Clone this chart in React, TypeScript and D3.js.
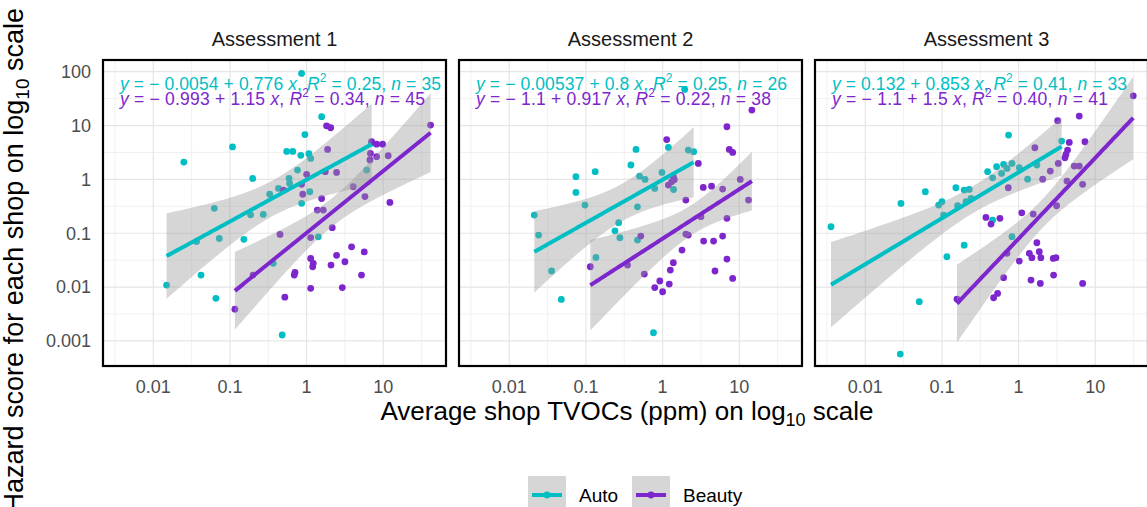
import React, { useEffect, useRef } from "react";
import * as d3 from "d3";

const panelTitles = ["Assessment 1", "Assessment 2", "Assessment 3"];
const groupNames = ["Auto", "Beauty"];
const groupColors = ["#00BFC4", "#7D26CD"];

const xTicks = [0.01, 0.1, 1, 10];
const xTickLabels = ["0.01", "0.1", "1", "10"];
const yTicks = [0.001, 0.01, 0.1, 1, 10, 100];
const yTickLabels = ["0.001", "0.01", "0.1", "1", "10", "100"];

// [average TVOC (ppm), hazard score]
const auto1 = [
  [0.86, 93], [0.025, 2.1], [0.108, 4.0], [1.57, 14.6], [0.95, 6.8], [0.55, 3.3], [0.66, 3.3],
  [0.84, 2.8], [1.07, 3.0], [1.13, 2.45], [0.198, 1.04], [0.76, 1.49], [0.59, 1.04], [0.6, 0.84],
  [0.43, 0.68], [0.33, 0.53], [0.86, 0.36], [1.1, 0.59], [0.0625, 0.29], [0.186, 0.22],
  [0.272, 0.224], [0.0367, 0.07], [0.0726, 0.08], [0.152, 0.077], [1.42, 0.086], [0.367, 0.0276],
  [0.0419, 0.0167], [0.0149, 0.0109], [0.0656, 0.0062], [0.48, 0.00129], [6.07, 1.49], [7.05, 4.7],
];
const beauty1 = [
  [1.82, 9.9], [2.06, 9.1], [7.05, 5.0], [8.2, 4.5], [9.8, 4.5], [41.4, 10.2], [6.8, 3.04],
  [6.7, 2.29], [8.2, 2.64], [11.6, 2.75], [1.88, 3.6], [1.0, 1.24], [2.46, 1.35], [1.75, 1.39],
  [0.86, 0.81], [0.89, 0.53], [0.5, 0.63], [4.06, 0.73], [5.77, 0.48], [1.57, 0.44], [1.38, 0.27],
  [1.65, 0.27], [12.2, 0.374], [2.16, 0.127], [0.45, 0.095], [1.13, 0.083], [3.86, 0.056],
  [5.65, 0.045], [2.46, 0.039], [1.13, 0.034], [1.22, 0.0276], [1.2, 0.0239], [2.08, 0.0257],
  [3.16, 0.0296], [0.705, 0.0188], [0.69, 0.0167], [5.2, 0.0167], [0.2, 0.0167], [1.13, 0.0095],
  [2.92, 0.0098], [0.52, 0.0065], [0.116, 0.0039],
];
const auto2 = [
  [1.94, 46.9], [0.45, 3.6], [1.19, 3.93], [2.16, 3.5], [2.54, 3.27], [0.386, 1.85], [0.132, 1.39],
  [0.074, 1.12], [0.074, 0.574], [0.5, 1.15], [0.59, 1.0], [0.98, 1.35], [0.79, 0.68], [1.39, 0.65],
  [0.097, 0.334], [0.47, 0.31], [0.0212, 0.218], [0.267, 0.157], [0.239, 0.111], [0.0241, 0.0926],
  [0.277, 0.0826], [0.47, 0.0748], [0.135, 0.0356], [0.0356, 0.0199], [0.0477, 0.0059], [0.76, 0.00142],
];
const beauty2 = [
  [14.6, 19.4], [6.9, 9.5], [1.13, 5.5], [7.4, 3.6], [8.2, 3.17], [2.92, 1.98], [1.38, 1.12],
  [1.31, 0.9], [1.19, 0.785], [3.39, 0.71], [4.35, 0.75], [6.07, 0.66], [10.3, 1.0], [13.2, 0.413],
  [2.01, 0.413], [3.16, 0.203], [6.9, 0.189], [2.01, 0.0966], [2.16, 0.0926], [0.52, 0.0887],
  [3.43, 0.0716], [4.62, 0.0716], [6.07, 0.0887], [1.79, 0.0488], [6.9, 0.0332], [1.38, 0.0284],
  [1.26, 0.0207], [0.114, 0.0239], [0.349, 0.0257], [0.577, 0.0175], [4.82, 0.0199], [8.2, 0.0145],
  [0.92, 0.013], [1.22, 0.0114], [0.79, 0.0098], [1.0, 0.0082], [1.42, 0.99],
];
const auto3 = [
  [0.74, 6.65], [3.64, 5.15], [0.00357, 0.132], [0.0292, 0.358], [0.0607, 0.59], [0.152, 0.7],
  [0.195, 0.634], [0.227, 0.652], [0.0905, 0.334], [0.1, 0.385], [0.16, 0.324], [0.206, 0.385],
  [0.239, 0.444], [0.105, 0.218], [0.394, 1.39], [0.516, 1.72], [0.637, 1.9], [0.819, 1.98],
  [0.705, 1.6], [0.6, 1.29], [0.458, 1.07], [1.02, 1.65], [1.31, 1.01], [1.73, 1.85], [0.458, 0.176],
  [0.195, 0.06], [0.116, 0.0367], [0.819, 0.0863], [0.0506, 0.00536], [0.0286, 0.000571],
];
const beauty3 = [
  [31.3, 35.7], [3.23, 12.3], [6.18, 15.0], [4.58, 4.86], [7.33, 5.0], [1.63, 3.87], [4.35, 3.5],
  [4.14, 2.91], [4.02, 2.52], [3.29, 1.98], [2.59, 1.43], [5.32, 1.77], [6.18, 1.77], [2.06, 1.01],
  [4.27, 0.93], [6.84, 0.81], [0.733, 0.7], [3.13, 0.324], [1.1, 0.24], [1.55, 0.227], [0.375, 0.197],
  [0.436, 0.148], [0.571, 0.189], [1.73, 0.0667], [0.705, 0.0423], [1.38, 0.0423], [1.86, 0.0454],
  [1.49, 0.0352], [1.95, 0.0352], [2.83, 0.0341], [3.07, 0.0352], [1.02, 0.0305], [0.637, 0.015],
  [1.45, 0.0135], [1.92, 0.0117], [2.86, 0.0167], [6.84, 0.0117], [0.532, 0.00765], [0.472, 0.00635],
  [0.157, 0.006],
];

// fitted log10(hazard) = a + b * log10(TVOC), as printed on the chart
const autoIntercept = [-0.0054, -0.00537, 0.132];
const autoSlope = [0.776, 0.8, 0.853];
const autoR2 = ["0.25", "0.25", "0.41"];
const autoN = [35, 26, 33];
const beautyIntercept = [-0.993, -1.1, -1.1];
const beautySlope = [1.15, 0.917, 1.5];
const beautyR2 = ["0.34", "0.22", "0.40"];
const beautyN = [45, 38, 41];

const FONT = "'Liberation Sans', Arial, Helvetica, sans-serif";

// confidence band around the printed line, as geom_smooth does it
const smoothBand = (data, a, b) => {
  const lx = data.map((d) => Math.log10(d[0]));
  const ly = data.map((d) => Math.log10(d[1]));
  const n = data.length;
  const xbar = d3.mean(lx);
  const sxx = d3.sum(lx, (v) => (v - xbar) ** 2);
  const sse = d3.sum(lx, (v, i) => (ly[i] - (a + b * v)) ** 2);
  const s = Math.sqrt(sse / (n - 2));
  const t = 1.96 + 2.4 / (n - 2);
  const [lo, hi] = d3.extent(lx);
  return d3.range(80).map((i) => {
    const v = lo + ((hi - lo) * i) / 79;
    const fit = a + b * v;
    const h = t * s * Math.sqrt(1 / n + (v - xbar) ** 2 / sxx);
    return { x: 10 ** v, fit: 10 ** fit, lo: 10 ** (fit - h), hi: 10 ** (fit + h) };
  });
};

const App = () => {
  const svgRef = useRef(null);

  useEffect(() => {
    const width = 1147,
      height = 507;
    const top = 60,
      bottom = 366,
      left0 = 103,
      step = 356,
      panelW = 343;
    const panelWidths = [343, 343, 333];
    // rendered widths of the equation labels (auto, beauty) per panel
    const eqWidths = [
      [321, 305],
      [311, 295],
      [295, 276],
    ];

    const svg = d3.select(svgRef.current);
    svg.selectAll("*").remove();
    svg.attr("width", width).attr("height", height);

    const x = d3.scaleLog().domain([0.002208, 65.8]).range([0, panelW]);
    const y = d3.scaleLog().domain([0.000343, 164.8]).range([bottom - top, 0]);

    const xMinor = xTicks.map((v) => v / Math.sqrt(10)).concat([10 * Math.sqrt(10)]);
    const yMinor = yTicks.slice(1).map((v) => v / Math.sqrt(10)).concat([100 * Math.sqrt(10)]);

    const datasets = [
      [auto1, beauty1],
      [auto2, beauty2],
      [auto3, beauty3],
    ];
    const intercepts = [autoIntercept, beautyIntercept];
    const slopes = [autoSlope, beautySlope];
    const r2s = [autoR2, beautyR2];
    const ns = [autoN, beautyN];

    const defs = svg.append("defs");

    panelTitles.forEach((title, p) => {
      const pw = panelWidths[p];
      const h = bottom - top;
      defs
        .append("clipPath")
        .attr("id", `clip${p}`)
        .append("rect")
        .attr("width", pw)
        .attr("height", h);

      const g = svg.append("g").attr("transform", `translate(${left0 + step * p},${top})`);
      const inner = g.append("g").attr("clip-path", `url(#clip${p})`);

      // grid
      inner
        .selectAll(".xminor")
        .data(xMinor)
        .join("line")
        .attr("x1", (d) => x(d))
        .attr("x2", (d) => x(d))
        .attr("y1", 0)
        .attr("y2", h)
        .attr("stroke", "#eeeeee")
        .attr("stroke-width", 0.8);
      inner
        .selectAll(".yminor")
        .data(yMinor)
        .join("line")
        .attr("y1", (d) => y(d))
        .attr("y2", (d) => y(d))
        .attr("x1", 0)
        .attr("x2", pw)
        .attr("stroke", "#eeeeee")
        .attr("stroke-width", 0.8);
      inner
        .selectAll(".xmajor")
        .data(xTicks)
        .join("line")
        .attr("x1", (d) => x(d))
        .attr("x2", (d) => x(d))
        .attr("y1", 0)
        .attr("y2", h)
        .attr("stroke", "#e6e6e6")
        .attr("stroke-width", 1.2);
      inner
        .selectAll(".ymajor")
        .data(yTicks)
        .join("line")
        .attr("y1", (d) => y(d))
        .attr("y2", (d) => y(d))
        .attr("x1", 0)
        .attr("x2", pw)
        .attr("stroke", "#e6e6e6")
        .attr("stroke-width", 1.2);

      // points
      datasets[p].forEach((data, gi) => {
        inner
          .append("g")
          .selectAll("circle")
          .data(data)
          .join("circle")
          .attr("cx", (d) => x(d[0]))
          .attr("cy", (d) => y(d[1]))
          .attr("r", 3.4)
          .attr("fill", groupColors[gi]);
      });

      // smooth ribbons + lines
      datasets[p].forEach((data, gi) => {
        const band = smoothBand(data, intercepts[gi][p], slopes[gi][p]);
        inner
          .append("path")
          .datum(band)
          .attr("fill", "#999999")
          .attr("fill-opacity", 0.4)
          .attr(
            "d",
            d3
              .area()
              .x((d) => x(d.x))
              .y0((d) => y(d.lo))
              .y1((d) => y(d.hi))
          );
        inner
          .append("path")
          .datum(band)
          .attr("fill", "none")
          .attr("stroke", groupColors[gi])
          .attr("stroke-width", 4)
          .attr(
            "d",
            d3
              .line()
              .x((d) => x(d.x))
              .y((d) => y(d.fit))
          );
      });

      // equation labels
      [0, 1].forEach((gi) => {
        const a = intercepts[gi][p];
        const b = slopes[gi][p];
        const t = g
          .append("text")
          .attr("x", 17)
          .attr("y", gi === 0 ? 30 : 45)
          .attr("fill", groupColors[gi])
          .attr("font-family", FONT)
          .attr("font-size", 17.5)
          .attr("textLength", eqWidths[p][gi])
          .attr("lengthAdjust", "spacing");
        t.append("tspan").attr("font-style", "italic").text("y");
        t.append("tspan").text(` = ${a < 0 ? "\u2212 " : ""}${Math.abs(a)} + ${b} `);
        t.append("tspan").attr("font-style", "italic").text("x");
        t.append("tspan").text(", ");
        t.append("tspan").attr("font-style", "italic").text("R");
        t.append("tspan").attr("dy", -8).attr("font-size", 12).text("2");
        t.append("tspan").attr("dy", 8).text(` = ${r2s[gi][p]}, `);
        t.append("tspan").attr("font-style", "italic").text("n");
        t.append("tspan").text(` = ${ns[gi][p]}`);
      });

      // border
      g.append("rect")
        .attr("width", pw)
        .attr("height", h)
        .attr("fill", "none")
        .attr("stroke", "black")
        .attr("stroke-width", 2.2);

      // strip title
      svg
        .append("text")
        .attr("x", left0 + step * p + panelW / 2)
        .attr("y", 46)
        .attr("text-anchor", "middle")
        .attr("font-family", FONT)
        .attr("font-size", 20)
        .attr("fill", "#1a1a1a")
        .text(title);

      // x tick labels
      g.selectAll(".xlab")
        .data(xTicks)
        .join("text")
        .attr("x", (d) => x(d))
        .attr("y", h + 27)
        .attr("text-anchor", "middle")
        .attr("font-family", FONT)
        .attr("font-size", 18)
        .attr("fill", "#4d4d4d")
        .text((d, i) => xTickLabels[i]);
    });

    // y tick labels
    svg
      .append("g")
      .selectAll("text")
      .data(yTicks)
      .join("text")
      .attr("x", 91)
      .attr("y", (d) => top + y(d))
      .attr("dy", "0.35em")
      .attr("text-anchor", "end")
      .attr("font-family", FONT)
      .attr("font-size", 18)
      .attr("fill", "#4d4d4d")
      .text((d, i) => yTickLabels[i]);

    // axis titles
    const xt = svg
      .append("text")
      .attr("x", 627)
      .attr("y", 420)
      .attr("text-anchor", "middle")
      .attr("font-family", FONT)
      .attr("font-size", 26)
      .attr("fill", "black");
    xt.append("tspan").text("Average shop TVOCs (ppm) on log");
    xt.append("tspan").attr("dy", 6).attr("font-size", 18).text("10");
    xt.append("tspan").attr("dy", -6).text(" scale");

    const yt = svg
      .append("text")
      .attr("transform", "translate(23,8) rotate(-90)")
      .attr("text-anchor", "end")
      .attr("font-family", FONT)
      .attr("font-size", 27)
      .attr("fill", "black");
    yt.append("tspan").text("Hazard score for each shop on log");
    yt.append("tspan").attr("dy", 6).attr("font-size", 19).text("10");
    yt.append("tspan").attr("dy", -6).text(" scale");

    // legend
    const legendX = [528, 632];
    const legendTextX = [579, 683];
    groupNames.forEach((name, gi) => {
      const lg = svg.append("g").attr("transform", `translate(${legendX[gi]},476)`);
      lg.append("rect").attr("width", 38).attr("height", 38).attr("fill", "#d6d6d6");
      lg.append("line")
        .attr("x1", 4)
        .attr("x2", 34)
        .attr("y1", 19)
        .attr("y2", 19)
        .attr("stroke", groupColors[gi])
        .attr("stroke-width", 4);
      lg.append("circle").attr("cx", 19).attr("cy", 19).attr("r", 3.4).attr("fill", groupColors[gi]);
      svg
        .append("text")
        .attr("x", legendTextX[gi])
        .attr("y", 502)
        .attr("font-family", FONT)
        .attr("font-size", 19)
        .attr("fill", "black")
        .text(name);
    });
  }, []);

  return (
    <div style={{ position: "absolute", left: 0, top: 0 }}>
      <svg ref={svgRef} style={{ display: "block" }}></svg>
    </div>
  );
};

export default App;
